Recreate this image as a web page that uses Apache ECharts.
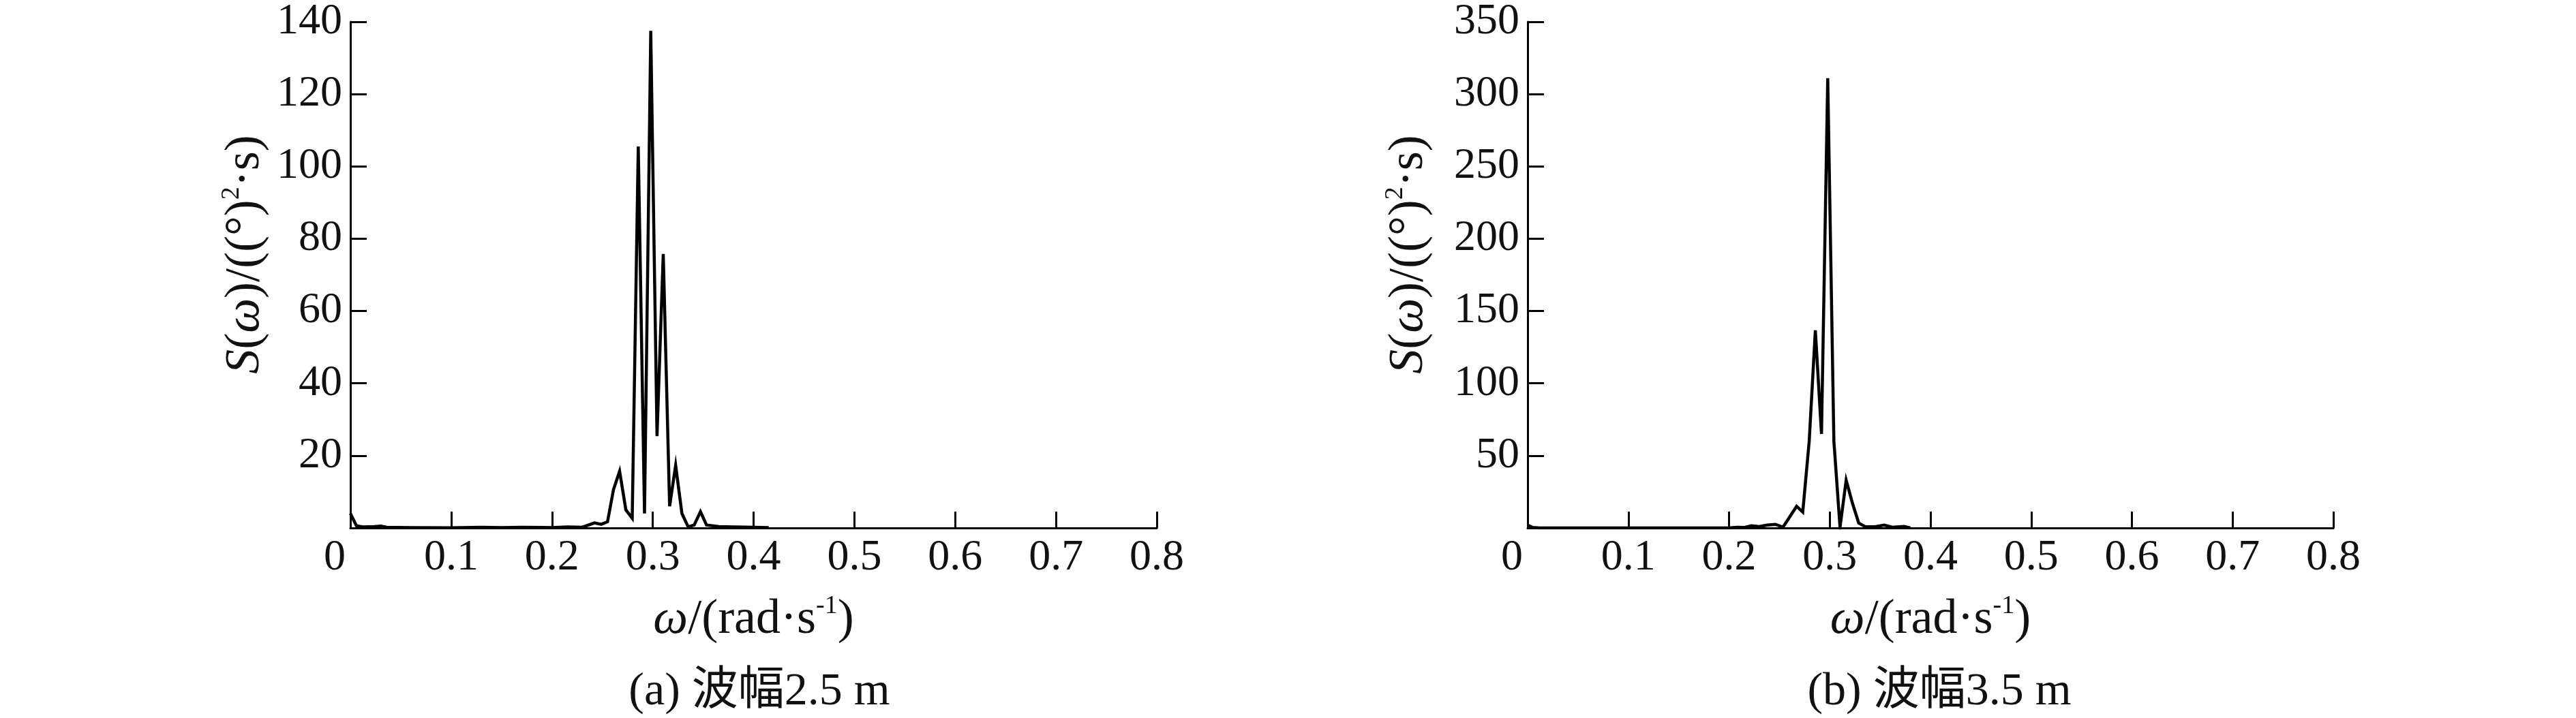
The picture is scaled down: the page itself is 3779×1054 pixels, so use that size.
<!DOCTYPE html>
<html>
<head>
<meta charset="utf-8">
<script src="https://cdn.jsdelivr.net/npm/echarts@6/dist/echarts.min.js"></script>
<style>
html,body{margin:0;padding:0;background:#fff;}
#chart{width:3779px;height:1054px;}
</style>
</head>
<body>
<div id="chart"></div>
<script>
// ---- data ----
var xTicks = [0, 0.1, 0.2, 0.3, 0.4, 0.5, 0.6, 0.7, 0.8];
var yTicksA = [20, 40, 60, 80, 100, 120, 140];
var yTicksB = [50, 100, 150, 200, 250, 300, 350];

var omegaA = [0, 0.006, 0.012, 0.024, 0.03, 0.036, 0.06, 0.1, 0.13, 0.15, 0.17, 0.19, 0.2, 0.215, 0.23,
  0.2422, 0.2489, 0.2551, 0.2611, 0.2671, 0.2733, 0.2796, 0.2856, 0.2918, 0.2980, 0.3042, 0.3104,
  0.3167, 0.3227, 0.3289, 0.3351, 0.3411, 0.3473, 0.3533, 0.3655, 0.38, 0.40, 0.415];
var specA = [4.0, 0.6, 0.3, 0.4, 0.5, 0.2, 0.1, 0.05, 0.2, 0.1, 0.2, 0.15, 0.1, 0.3, 0.2,
  1.4, 1.0, 1.7, 10.7, 15.7, 5.0, 2.7, 105.5, 4.0, 137.5, 25.4, 75.8,
  6.0, 17.3, 4.0, 0.3, 0.8, 4.5, 0.8, 0.4, 0.3, 0.2, 0.1];

var omegaB = [0, 0.005, 0.012, 0.2, 0.208, 0.215, 0.222, 0.23, 0.238, 0.246, 0.2535,
  0.2671, 0.2732, 0.2796, 0.2857, 0.2918, 0.2980, 0.3041, 0.3102, 0.3163, 0.3227, 0.3288,
  0.3350, 0.345, 0.354, 0.362, 0.374, 0.38];
var specB = [2.0, 0.3, 0, 0, 0.5, 0.3, 1.5, 1.0, 2.0, 2.5, 0.5,
  15.0, 11.0, 60.0, 136.7, 65.0, 311.0, 60.0, 0.5, 33.0, 16.7, 3.3,
  1.0, 0.8, 2.0, 0.5, 1.0, 0];

var captions = ['(a) 波幅2.5 m', '(b) 波幅3.5 m'];

function pairs(xs, ys) { var o = []; for (var i = 0; i < xs.length; i++) o.push([xs[i], ys[i]]); return o; }

var FONT = '"Liberation Serif","Times New Roman","Noto Sans CJK SC",serif';
var FS = 64;
var NFS = 72;
var INK = '#111';

function nameRich() {
  return {
    i: { fontFamily: FONT, fontSize: NFS, fontStyle: 'italic', color: INK, lineHeight: 78 },
    n: { fontFamily: FONT, fontSize: NFS, color: INK, lineHeight: 78 },
    sup: { fontFamily: FONT, fontSize: 38, color: INK, verticalAlign: 'top', lineHeight: 44 }
  };
}

function xAxisCfg(gi) {
  return {
    type: 'value', gridIndex: gi, min: xTicks[0], max: xTicks[xTicks.length - 1], interval: 0.1,
    axisLine: { show: true, onZero: false, lineStyle: { color: '#000', width: 3 } },
    axisTick: { show: true, inside: true, length: 24, lineStyle: { color: '#000', width: 3 } },
    splitLine: { show: false },
    axisLabel: {
      margin: 12, color: INK, fontFamily: FONT, fontSize: FS,
      formatter: function (v) { return v === 0 ? '{z|0}' : v.toFixed(1); },
      rich: { z: { fontFamily: FONT, fontSize: FS, color: INK, padding: [0, 46, 0, 0] } }
    },
    name: '{i|ω}{n|/(rad·s}{sup|-1}{n|)}',
    nameLocation: 'middle', nameGap: 96,
    nameTextStyle: { fontFamily: FONT, fontSize: NFS, color: INK, lineHeight: 78, rich: nameRich() }
  };
}

function yAxisCfg(gi, ticks, gap) {
  return {
    type: 'value', gridIndex: gi, min: 0, max: ticks[ticks.length - 1], interval: ticks[1] - ticks[0],
    axisLine: { show: true, onZero: false, lineStyle: { color: '#000', width: 3 } },
    axisTick: { show: true, inside: true, length: 24, lineStyle: { color: '#000', width: 3 } },
    splitLine: { show: false },
    axisLabel: { margin: 12, color: INK, fontFamily: FONT, fontSize: FS, showMinLabel: false },
    name: '{i|S}{n|(}{i|ω}{n|)/((°)}{sup|2}{n|·s)}',
    nameLocation: 'middle', nameGap: gap,
    nameTextStyle: { fontFamily: FONT, fontSize: NFS, color: INK, lineHeight: 78, padding: [0, 0, 0, 60], rich: nameRich() }
  };
}

function lineSeries(gi, data) {
  return {
    type: 'line', xAxisIndex: gi, yAxisIndex: gi, data: data,
    showSymbol: false, symbol: 'none', smooth: false, animation: false,
    lineStyle: { color: '#000', width: 4.5, join: 'miter' }
  };
}

var chart = echarts.init(document.getElementById('chart'), null, { renderer: 'canvas' });
chart.setOption({
  backgroundColor: '#fff',
  animation: false,
  grid: [
    { left: 514, right: 3779 - 1697, top: 20, bottom: 1054 - 775 },
    { left: 2241, right: 3779 - 3423, top: 20, bottom: 1054 - 775 }
  ],
  xAxis: [xAxisCfg(0), xAxisCfg(1)],
  yAxis: [yAxisCfg(0, yTicksA, 115), yAxisCfg(1, yTicksB, 135)],
  series: [lineSeries(0, pairs(omegaA, specA)), lineSeries(1, pairs(omegaB, specB))],
  graphic: [
    { type: 'text', x: 1114, y: 1016, style: { text: captions[0], font: '68px ' + FONT, fill: INK, align: 'center', verticalAlign: 'middle', textAlign: 'center', textVerticalAlign: 'middle' } },
    { type: 'text', x: 2845, y: 1016, style: { text: captions[1], font: '68px ' + FONT, fill: INK, align: 'center', verticalAlign: 'middle', textAlign: 'center', textVerticalAlign: 'middle' } }
  ]
});
</script>
</body>
</html>
